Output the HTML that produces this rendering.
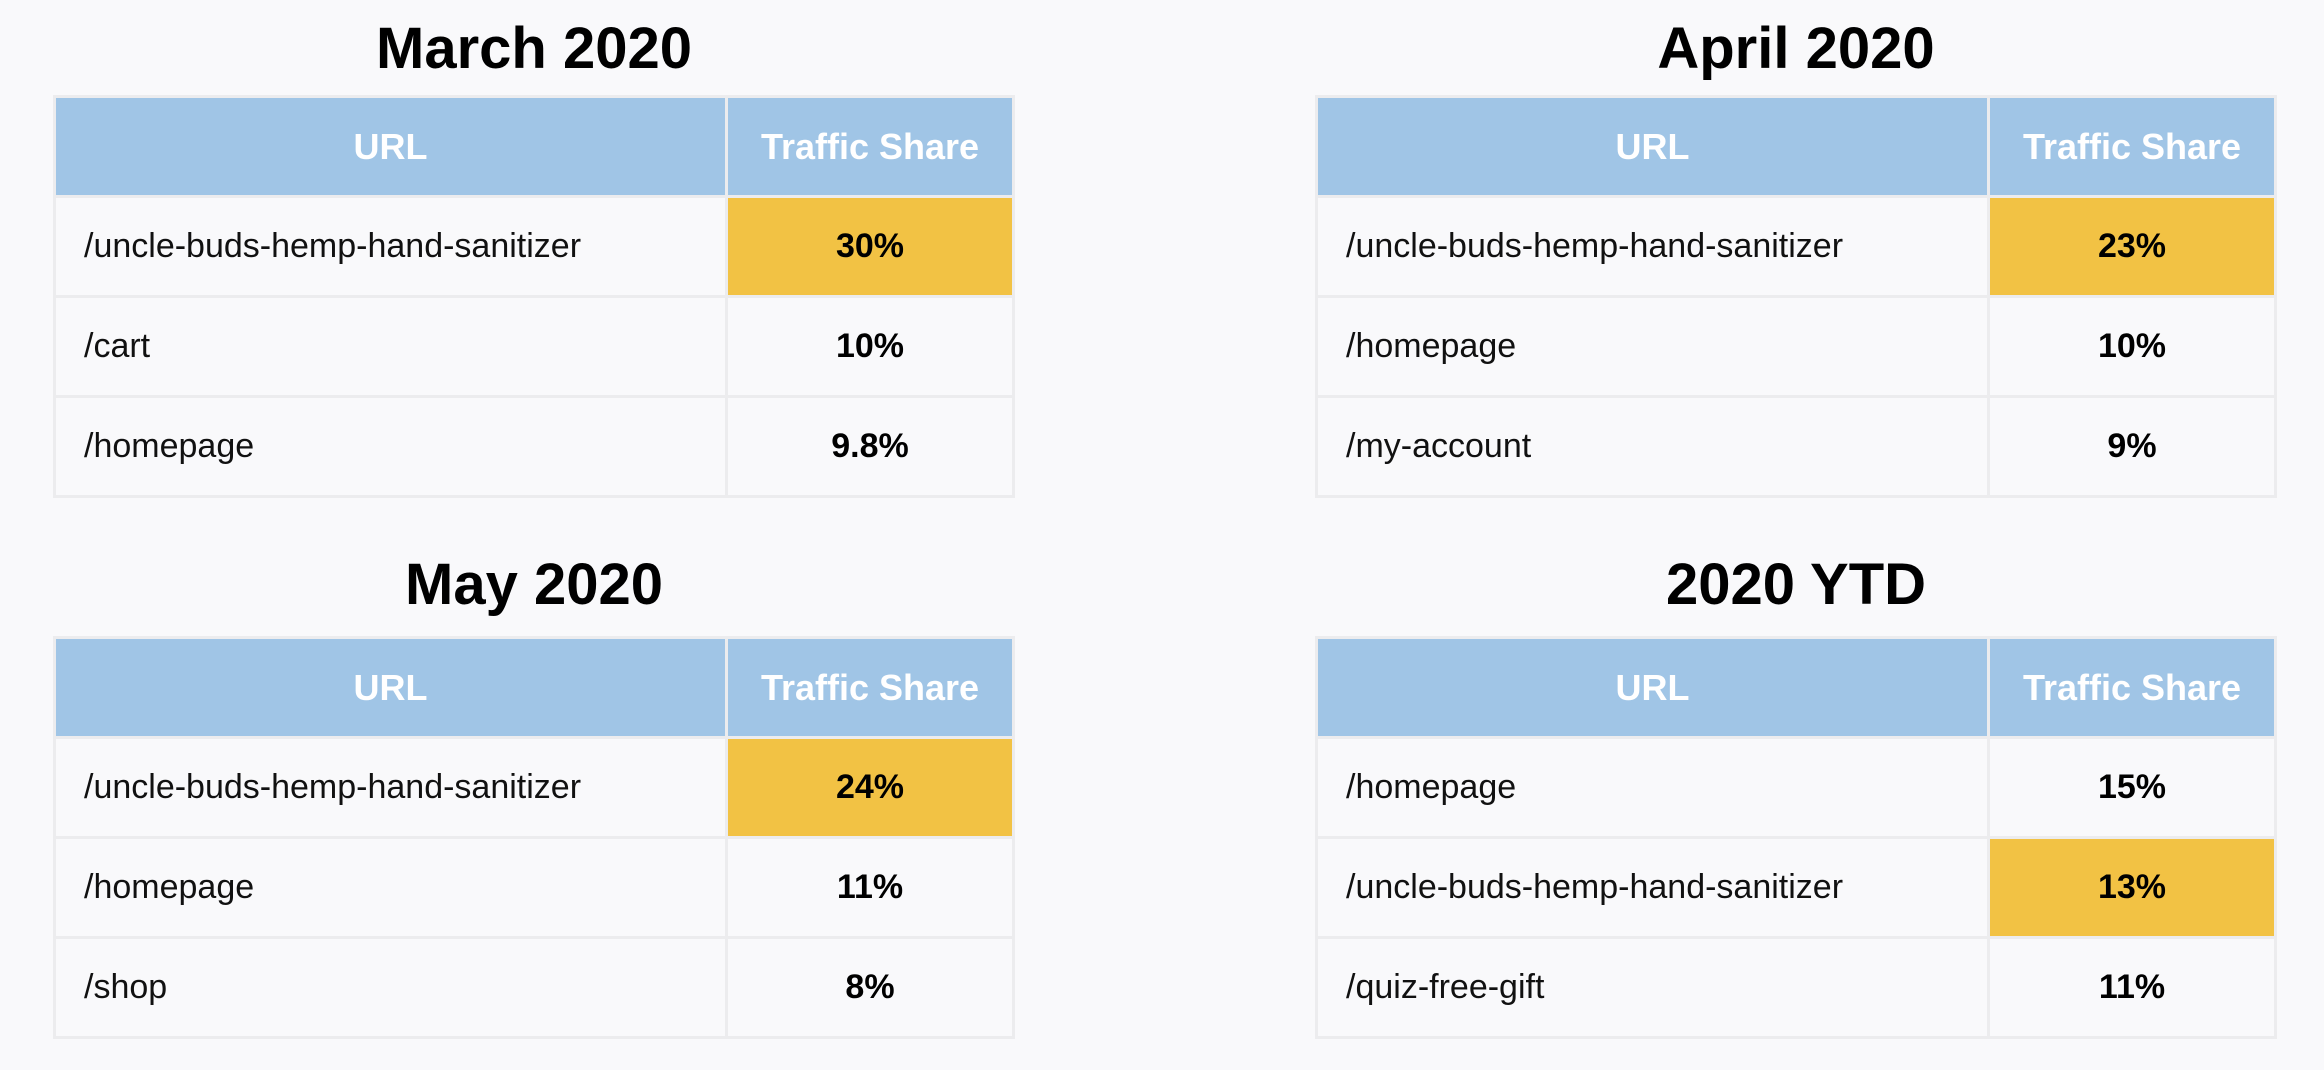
<!DOCTYPE html>
<html><head><meta charset="utf-8"><style>
html,body{margin:0;padding:0;}
body{width:2324px;height:1070px;background:#f9f9fb;position:relative;overflow:hidden;font-family:"Liberation Sans",sans-serif;}
.t{position:absolute;font-weight:bold;font-size:58px;color:#000;text-align:center;width:962px;line-height:60px;}
table{position:absolute;border-collapse:collapse;width:962px;table-layout:fixed;border:3px solid #ececee;}
td,th{height:97px;border:3px solid #ececee;padding:0;font-size:34px;}
th{background:#a0c5e6;color:#fff;font-weight:bold;font-size:36px;border-color:#ececee;}
td.u{padding-left:28px;color:#111;}
td.v{text-align:center;font-weight:bold;color:#000;}
td.y{background:#f2c244;}
col.a{width:672px}
</style></head><body>
<div class="t" style="left:53px;top:19px">March 2020</div>
<table style="left:53px;top:95px"><colgroup><col class="a"><col></colgroup>
<tr><th>URL</th><th>Traffic Share</th></tr>
<tr><td class="u">/uncle-buds-hemp-hand-sanitizer</td><td class="v y">30%</td></tr>
<tr><td class="u">/cart</td><td class="v">10%</td></tr>
<tr><td class="u">/homepage</td><td class="v">9.8%</td></tr>
</table>
<div class="t" style="left:1315px;top:19px">April 2020</div>
<table style="left:1315px;top:95px"><colgroup><col class="a"><col></colgroup>
<tr><th>URL</th><th>Traffic Share</th></tr>
<tr><td class="u">/uncle-buds-hemp-hand-sanitizer</td><td class="v y">23%</td></tr>
<tr><td class="u">/homepage</td><td class="v">10%</td></tr>
<tr><td class="u">/my-account</td><td class="v">9%</td></tr>
</table>
<div class="t" style="left:53px;top:555px">May 2020</div>
<table style="left:53px;top:636px"><colgroup><col class="a"><col></colgroup>
<tr><th>URL</th><th>Traffic Share</th></tr>
<tr><td class="u">/uncle-buds-hemp-hand-sanitizer</td><td class="v y">24%</td></tr>
<tr><td class="u">/homepage</td><td class="v">11%</td></tr>
<tr><td class="u">/shop</td><td class="v">8%</td></tr>
</table>
<div class="t" style="left:1315px;top:555px">2020 YTD</div>
<table style="left:1315px;top:636px"><colgroup><col class="a"><col></colgroup>
<tr><th>URL</th><th>Traffic Share</th></tr>
<tr><td class="u">/homepage</td><td class="v">15%</td></tr>
<tr><td class="u">/uncle-buds-hemp-hand-sanitizer</td><td class="v y">13%</td></tr>
<tr><td class="u">/quiz-free-gift</td><td class="v">11%</td></tr>
</table>
</body></html>
